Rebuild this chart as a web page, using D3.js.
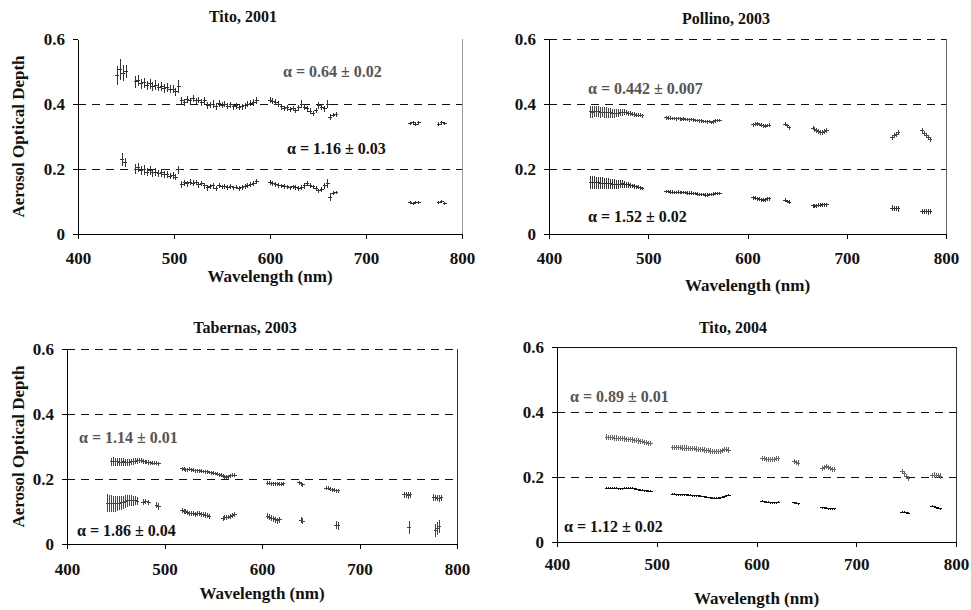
<!DOCTYPE html>
<html>
<head>
<meta charset="utf-8">
<script src="https://cdn.jsdelivr.net/npm/d3@7"></script>
<style>
  body { margin: 0; background: #fff; }
  svg { display: block; }
  svg line, svg path { shape-rendering: crispEdges; }
</style>
</head>
<body>
<svg id="chart" width="971" height="610"></svg>
<script>
// ---- data (wavelength in nm, aerosol optical depth, error) ----

// Tito, 2001
const tito01UpWl = [441,444,447,450,
  460,463,466,469,472,475,478,481,484,487,490,493,496,499,502,505,
  508,511,514,517,520,523,526,529,532,535,538,541,544,547,550,553,556,559,562,565,568,571,574,577,580,583,586,
  600,603,606,609,612,615,618,621,624,627,630,633,636,639,642,645,648,651,654,657,660,
  663,666,669, 746,749,752,755, 776,779,782];
const tito01UpAod = [0.488,0.505,0.495,0.500,
  0.468,0.472,0.462,0.465,0.458,0.462,0.455,0.458,0.452,0.455,0.448,0.450,0.445,0.446,0.438,0.455,
  0.410,0.405,0.415,0.410,0.418,0.410,0.412,0.405,0.410,0.395,0.398,0.400,0.392,0.402,0.396,0.400,0.393,0.397,0.392,0.395,0.390,0.392,0.395,0.400,0.402,0.405,0.410,
  0.412,0.408,0.405,0.400,0.392,0.385,0.388,0.383,0.385,0.380,0.388,0.400,0.390,0.385,0.378,0.372,0.380,0.395,0.390,0.385,0.400,
  0.360,0.366,0.368, 0.340,0.342,0.338,0.342, 0.338,0.342,0.340];
const tito01UpErr = [0.030,0.032,0.025,0.020,
  0.018,0.016,0.015,0.016,0.014,0.015,0.014,0.015,0.013,0.014,0.013,0.014,0.012,0.013,0.012,0.020,
  0.012,0.010,0.011,0.010,0.011,0.010,0.010,0.010,0.011,0.010,0.009,0.012,0.010,0.010,0.009,0.010,0.009,0.009,0.009,0.009,0.008,0.009,0.009,0.010,0.009,0.010,0.011,
  0.010,0.009,0.009,0.009,0.009,0.008,0.009,0.008,0.008,0.008,0.008,0.011,0.009,0.009,0.009,0.008,0.009,0.010,0.009,0.010,0.012,
  0.010,0.007,0.007, 0.006,0.006,0.006,0.006, 0.006,0.006,0.006];

const tito01LoWl = [446,449,
  460,463,466,469,472,475,478,481,484,487,490,493,496,499,502,505,
  508,511,514,517,520,523,526,529,532,535,538,541,544,547,550,553,556,559,562,565,568,571,574,577,580,583,586,
  600,603,606,609,612,615,618,621,624,627,630,633,636,639,642,645,648,651,654,657,660,
  663,666,669, 746,749,752,755, 776,779,782];
const tito01LoAod = [0.228,0.220,
  0.200,0.205,0.195,0.198,0.190,0.195,0.188,0.190,0.186,0.188,0.182,0.183,0.178,0.180,0.175,0.198,
  0.152,0.158,0.155,0.160,0.156,0.158,0.152,0.156,0.148,0.142,0.146,0.148,0.140,0.150,0.145,0.147,0.143,0.146,0.142,0.144,0.140,0.143,0.146,0.150,0.153,0.156,0.162,
  0.158,0.156,0.153,0.150,0.148,0.146,0.145,0.142,0.145,0.143,0.140,0.143,0.148,0.156,0.150,0.145,0.140,0.133,0.138,0.148,0.155,
  0.113,0.125,0.128, 0.096,0.095,0.097,0.098, 0.097,0.100,0.095];
const tito01LoErr = [0.020,0.015,
  0.016,0.015,0.014,0.015,0.013,0.014,0.012,0.013,0.012,0.012,0.011,0.012,0.010,0.011,0.010,0.012,
  0.010,0.009,0.009,0.009,0.009,0.008,0.009,0.008,0.008,0.009,0.008,0.009,0.008,0.008,0.007,0.008,0.007,0.007,0.007,0.007,0.007,0.007,0.007,0.008,0.007,0.007,0.008,
  0.007,0.007,0.007,0.007,0.007,0.007,0.007,0.007,0.007,0.007,0.007,0.007,0.008,0.008,0.007,0.007,0.007,0.007,0.008,0.008,0.014,
  0.012,0.006,0.005, 0.005,0.005,0.005,0.005, 0.005,0.005,0.005];

// Pollino, 2003
const pollinoWl = [442,444,446,448,450,452,454,456,458,460,462,464,466,468,470,472,474,476,478,480,482,484,486,488,490,492,494,
  518,520,522,524,526,528,530,532,534,536,538,540,542,544,546,548,550,552,554,556,558,560,562,564,566,568,570,572,
  606,608,610,612,614,616,618,620,622, 638,640,642,
  666,668,670,672,674,676,678,680, 746,748,750,752, 776,778,780,782,784];
const pollinoUpAod = [0.376,0.375,0.377,0.376,0.376,0.375,0.375,0.374,0.374,0.373,0.373,0.372,0.372,0.372,0.372,0.373,0.374,0.375,0.374,0.372,0.370,0.369,0.368,0.366,0.366,0.365,0.364,
  0.358,0.356,0.356,0.355,0.355,0.354,0.355,0.354,0.353,0.354,0.352,0.352,0.351,0.352,0.351,0.350,0.349,0.348,0.348,0.347,0.346,0.345,0.346,0.344,0.345,0.348,0.350,0.350,
  0.336,0.338,0.339,0.337,0.335,0.333,0.332,0.334,0.335, 0.338,0.333,0.327,
  0.326,0.322,0.318,0.315,0.312,0.313,0.316,0.318, 0.297,0.302,0.307,0.312, 0.318,0.310,0.303,0.297,0.290];
const pollinoUpErr = [0.018,0.018,0.018,0.017,0.017,0.017,0.016,0.016,0.016,0.015,0.015,0.014,0.014,0.013,0.012,0.011,0.010,0.010,0.009,0.008,0.008,0.007,0.007,0.007,0.006,0.006,0.006,
  0.006,0.006,0.006,0.005,0.005,0.005,0.005,0.005,0.005,0.005,0.005,0.005,0.005,0.005,0.005,0.005,0.005,0.005,0.005,0.005,0.005,0.005,0.005,0.005,0.005,0.005,0.005,0.005,
  0.006,0.006,0.006,0.006,0.006,0.006,0.006,0.006,0.006, 0.006,0.006,0.006,
  0.007,0.007,0.007,0.007,0.007,0.007,0.007,0.007, 0.008,0.008,0.008,0.008, 0.008,0.008,0.008,0.008,0.008];
const pollinoLoAod = [0.158,0.158,0.158,0.157,0.157,0.156,0.156,0.155,0.155,0.154,0.154,0.153,0.153,0.153,0.152,0.153,0.154,0.153,0.152,0.151,0.150,0.148,0.147,0.146,0.144,0.142,0.140,
  0.130,0.130,0.129,0.129,0.128,0.128,0.129,0.128,0.127,0.127,0.127,0.126,0.126,0.126,0.125,0.124,0.123,0.122,0.122,0.121,0.120,0.120,0.121,0.122,0.123,0.124,0.124,0.125,
  0.112,0.110,0.108,0.107,0.105,0.104,0.106,0.108,0.108, 0.104,0.100,0.098,
  0.087,0.086,0.087,0.088,0.089,0.090,0.090,0.090, 0.080,0.079,0.078,0.077, 0.070,0.069,0.069,0.068,0.069];
const pollinoLoErr = [0.020,0.020,0.019,0.019,0.019,0.018,0.018,0.018,0.017,0.017,0.016,0.016,0.015,0.014,0.013,0.012,0.011,0.010,0.009,0.008,0.008,0.007,0.007,0.006,0.006,0.006,0.006,
  0.005,0.005,0.005,0.005,0.005,0.005,0.005,0.005,0.005,0.005,0.005,0.005,0.005,0.005,0.005,0.005,0.005,0.005,0.005,0.005,0.005,0.005,0.005,0.005,0.005,0.005,0.005,0.005,
  0.006,0.006,0.006,0.006,0.006,0.006,0.006,0.006,0.006, 0.006,0.006,0.006,
  0.006,0.006,0.006,0.006,0.006,0.006,0.006,0.006, 0.008,0.008,0.008,0.008, 0.008,0.008,0.008,0.008,0.008];

// Tabernas, 2003
const tabernasUpWl = [446,448,450,452,454,456,458,460,462,464,466,468,470,472,474,476,478,480,482,484,486,488,490,492,494,
  518,520,522,524,526,528,530,532,534,536,538,540,542,544,546,548,550,552,554,556,558,560,562,564,566,568,570,572,
  606,608,610,612,614,616,618,620,622, 638,640,642,
  666,668,670,672,674,676,678, 746,748,750,752, 776,778,780,782,784];
const tabernasUpAod = [0.253,0.254,0.253,0.253,0.252,0.252,0.253,0.252,0.252,0.252,0.253,0.254,0.255,0.256,0.257,0.256,0.255,0.253,0.252,0.251,0.250,0.249,0.248,0.248,0.247,
  0.232,0.230,0.229,0.228,0.230,0.229,0.227,0.226,0.226,0.225,0.224,0.223,0.222,0.222,0.220,0.219,0.218,0.217,0.215,0.213,0.211,0.209,0.207,0.206,0.207,0.210,0.212,0.212,
  0.187,0.187,0.186,0.186,0.185,0.185,0.184,0.184,0.185, 0.188,0.185,0.182,
  0.172,0.171,0.169,0.167,0.165,0.164,0.164, 0.151,0.151,0.150,0.151, 0.143,0.142,0.141,0.140,0.142];
const tabernasUpErr = [0.013,0.013,0.013,0.012,0.012,0.012,0.012,0.011,0.011,0.011,0.010,0.010,0.010,0.009,0.009,0.008,0.008,0.007,0.007,0.007,0.006,0.006,0.006,0.006,0.006,
  0.006,0.006,0.006,0.006,0.006,0.006,0.006,0.006,0.006,0.006,0.006,0.006,0.006,0.006,0.006,0.006,0.006,0.006,0.006,0.006,0.006,0.006,0.006,0.006,0.006,0.006,0.006,0.006,
  0.006,0.006,0.006,0.006,0.006,0.006,0.006,0.006,0.006, 0.007,0.007,0.007,
  0.006,0.006,0.006,0.006,0.006,0.006,0.006, 0.010,0.010,0.010,0.010, 0.010,0.010,0.010,0.010,0.010];

const tabernasLoWl = [442,444,446,448,450,452,454,456,458,460,462,464,466,468,470,472,
  478,481,484, 492,494,
  518,520,522,524,526,528,530,532,534,536,538,540,542,544,546,
  560,562,564,566,568,570,572,
  606,608,610,612,614,616,618, 640,642, 676,678, 751, 778,780,782];
const tabernasLoAod = [0.125,0.125,0.125,0.124,0.124,0.125,0.126,0.127,0.129,0.131,0.133,0.134,0.134,0.133,0.133,0.132,
  0.129,0.130,0.128, 0.120,0.115,
  0.104,0.101,0.099,0.097,0.094,0.095,0.093,0.092,0.094,0.093,0.091,0.090,0.089,0.087,0.085,
  0.079,0.081,0.082,0.083,0.084,0.087,0.091,
  0.086,0.083,0.080,0.077,0.074,0.071,0.074, 0.073,0.070, 0.058,0.056, 0.050, 0.042,0.048,0.053];
const tabernasLoErr = [0.028,0.027,0.026,0.025,0.024,0.023,0.022,0.021,0.020,0.019,0.018,0.017,0.016,0.015,0.014,0.013,
  0.008,0.008,0.008, 0.010,0.010,
  0.008,0.008,0.008,0.008,0.008,0.008,0.008,0.008,0.008,0.008,0.008,0.008,0.008,0.008,0.008,
  0.007,0.007,0.007,0.007,0.007,0.007,0.007,
  0.008,0.008,0.008,0.008,0.008,0.008,0.008, 0.009,0.009, 0.012,0.012, 0.020, 0.020,0.020,0.020];

// Tito, 2004
const tito04Wl = [450,452,454,456,458,460,462,464,466,468,470,472,474,476,478,480,482,484,486,488,490,492,494,
  516,518,520,522,524,526,528,530,532,534,536,538,540,542,544,546,548,550,552,554,556,558,560,562,564,566,568,570,572,
  606,608,610,612,614,616,618,620,622, 638,640,642,
  666,668,670,672,674,676,678, 746,748,750,752, 776,778,780,782,784];
const tito04UpAod = [0.323,0.322,0.322,0.321,0.320,0.320,0.319,0.318,0.318,0.317,0.316,0.315,0.315,0.314,0.313,0.312,0.311,0.310,0.309,0.307,0.306,0.304,0.303,
  0.291,0.290,0.290,0.290,0.290,0.289,0.289,0.289,0.288,0.288,0.287,0.287,0.286,0.285,0.285,0.284,0.283,0.282,0.281,0.280,0.279,0.278,0.278,0.278,0.279,0.282,0.284,0.284,0.283,
  0.256,0.256,0.255,0.254,0.253,0.253,0.254,0.256,0.258, 0.248,0.245,0.243,
  0.226,0.230,0.232,0.230,0.226,0.223,0.222, 0.218,0.210,0.202,0.195, 0.205,0.206,0.205,0.204,0.203];
const tito04UpErr = 0.008;
const tito04LoAod = [0.166,0.166,0.166,0.165,0.165,0.165,0.164,0.164,0.164,0.165,0.165,0.166,0.166,0.165,0.164,0.162,0.161,0.160,0.159,0.158,0.157,0.156,0.156,
  0.147,0.147,0.146,0.146,0.146,0.145,0.145,0.145,0.144,0.144,0.143,0.143,0.142,0.142,0.141,0.140,0.139,0.138,0.137,0.136,0.135,0.135,0.135,0.135,0.136,0.138,0.140,0.142,0.144,
  0.125,0.124,0.123,0.122,0.121,0.121,0.121,0.121,0.122, 0.121,0.119,0.117,
  0.106,0.105,0.104,0.103,0.103,0.102,0.102, 0.092,0.091,0.090,0.089, 0.110,0.108,0.106,0.104,0.102];
const tito04LoErr = 0.003;

const xTicks = [400, 500, 600, 700, 800];
const yTicks = [0, 0.2, 0.4, 0.6];

const serif = '"Liberation Serif"';

// ---- layout of the four panels ----
const panels = [
  { title: "Tito, 2001", left: 78, right: 462, top: 39, bottom: 234, titleX: 243, titleY: 22,
    xLabelY: 282, yLabel: true, xPad: 13, grid: [0.2, 0.4], topLine: "none", rightColor: "#999",
    series: [
      { wl: tito01UpWl, aod: tito01UpAod, err: tito01UpErr, color: "#333" },
      { wl: tito01LoWl, aod: tito01LoAod, err: tito01LoErr, color: "#333" }],
    notes: [
      { text: "α = 0.64 ± 0.02", x: 283, y: 77, color: "#555" },
      { text: "α = 1.16 ± 0.03", x: 287, y: 154, color: "#111" }] },
  { title: "Pollino, 2003", left: 549, right: 946, top: 39, bottom: 234, titleX: 726, titleY: 24,
    xLabelY: 291, yLabel: false, xPad: 13, grid: [0.2, 0.4, 0.6], topLine: "none", rightColor: "#666",
    series: [
      { wl: pollinoWl, aod: pollinoUpAod, err: pollinoUpErr, color: "#444" },
      { wl: pollinoWl, aod: pollinoLoAod, err: pollinoLoErr, color: "#333" }],
    notes: [
      { text: "α = 0.442 ± 0.007", x: 588, y: 94, color: "#555" },
      { text: "α = 1.52 ± 0.02", x: 588, y: 222, color: "#111" }] },
  { title: "Tabernas, 2003", left: 67, right: 457, top: 349, bottom: 544, titleX: 245, titleY: 333,
    xLabelY: 599, yLabel: true, xPad: 14, grid: [0.2, 0.4, 0.6], topLine: "none", rightColor: "#333",
    series: [
      { wl: tabernasUpWl, aod: tabernasUpAod, err: tabernasUpErr, color: "#444" },
      { wl: tabernasLoWl, aod: tabernasLoAod, err: tabernasLoErr, color: "#444" }],
    notes: [
      { text: "α = 1.14 ± 0.01", x: 79, y: 443, color: "#555" },
      { text: "α = 1.86 ± 0.04", x: 77, y: 536, color: "#111" }] },
  { title: "Tito, 2004", left: 557, right: 956, top: 347, bottom: 542, titleX: 733, titleY: 333,
    xLabelY: 604, yLabel: false, xPad: 11, grid: [0.2, 0.4], topLine: "solid", rightColor: "#333",
    series: [
      { wl: tito04Wl, aod: tito04UpAod, err: tito04UpErr, color: "#666" },
      { wl: tito04Wl, aod: tito04LoAod, err: tito04LoErr, color: "#111" }],
    notes: [
      { text: "α = 0.89 ± 0.01", x: 570, y: 402, color: "#555" },
      { text: "α = 1.12 ± 0.02", x: 564, y: 532, color: "#111" }] }
];

const svg = d3.select("#chart");
svg.append("rect").attr("width", 971).attr("height", 610).attr("fill", "#fff");

// same serif bold for every text
function serifText(sel, size) {
  return sel.style("font-family", serif).style("font-weight", "bold").style("font-size", size + "px");
}

function drawPanel(p) {
  const x = d3.scaleLinear().domain([400, 800]).range([p.left, p.right]);
  const y = d3.scaleLinear().domain([0, 0.6]).range([p.bottom, p.top]);
  const g = svg.append("g");

  // dashed reference lines
  g.selectAll(".grid")
    .data(p.grid)
    .enter().append("line")
    .attr("x1", p.left).attr("x2", p.right)
    .attr("y1", d => y(d)).attr("y2", d => y(d))
    .attr("stroke", "#111").attr("stroke-width", 1)
    .attr("stroke-dasharray", "8,6");

  // right border (and top border in the last panel)
  g.append("line")
    .attr("x1", p.right).attr("x2", p.right)
    .attr("y1", p.top).attr("y2", p.bottom)
    .attr("stroke", p.rightColor).attr("stroke-width", 1);
  if (p.topLine === "solid") {
    g.append("line")
      .attr("x1", p.left).attr("x2", p.right)
      .attr("y1", p.top).attr("y2", p.top)
      .attr("stroke", "#111").attr("stroke-width", 1);
  }

  // data points with error bars
  p.series.forEach(s => {
    const pts = s.wl.map((w, i) => ({
      w: w, v: s.aod[i], e: Array.isArray(s.err) ? s.err[i] : s.err
    }));
    const pg = g.append("g").attr("stroke", s.color).attr("stroke-width", 1);
    pg.selectAll(".bar")
      .data(pts)
      .enter().append("line")
      .attr("x1", d => x(d.w)).attr("x2", d => x(d.w))
      .attr("y1", d => y(d.v - d.e)).attr("y2", d => y(d.v + d.e));
    pg.selectAll(".mark")
      .data(pts)
      .enter().append("line")
      .attr("x1", d => x(d.w) - 2).attr("x2", d => x(d.w) + 2)
      .attr("y1", d => y(d.v)).attr("y2", d => y(d.v));
  });

  // axes
  const yAxis = d3.axisLeft(y).tickValues(yTicks)
    .tickFormat(d => d === 0 ? "0" : d3.format(".1f")(d))
    .tickSize(5).tickSizeOuter(0).tickPadding(8);
  const xAxis = d3.axisBottom(x).tickValues(xTicks)
    .tickSize(5).tickSizeOuter(0).tickPadding(p.xPad);

  const ya = g.append("g").attr("transform", `translate(${p.left},0)`).call(yAxis);
  const xa = g.append("g").attr("transform", `translate(0,${p.bottom})`).call(xAxis);
  [ya, xa].forEach(a => {
    a.select(".domain").attr("stroke", "#000");
    a.selectAll(".tick line").attr("stroke", "#000");
    serifText(a.selectAll("text"), 17).attr("fill", "#111");
  });

  // titles and labels
  serifText(g.append("text"), 16)
    .attr("x", p.titleX).attr("y", p.titleY)
    .attr("text-anchor", "middle")
    .attr("fill", "#111")
    .text(p.title);

  serifText(g.append("text"), 17)
    .attr("x", (p.left + p.right) / 2).attr("y", p.xLabelY)
    .attr("text-anchor", "middle")
    .attr("fill", "#111")
    .text("Wavelength (nm)");

  if (p.yLabel) {
    serifText(g.append("text"), 17)
      .attr("transform", `translate(24,${(p.top + p.bottom) / 2}) rotate(-90)`)
      .attr("text-anchor", "middle")
      .attr("fill", "#111")
      .text("Aerosol Optical Depth");
  }

  serifText(g.selectAll(".note")
    .data(p.notes)
    .enter().append("text"), 16)
    .attr("x", d => d.x).attr("y", d => d.y)
    .attr("fill", d => d.color)
    .text(d => d.text);
}

panels.forEach(drawPanel);
</script>
</body>
</html>
